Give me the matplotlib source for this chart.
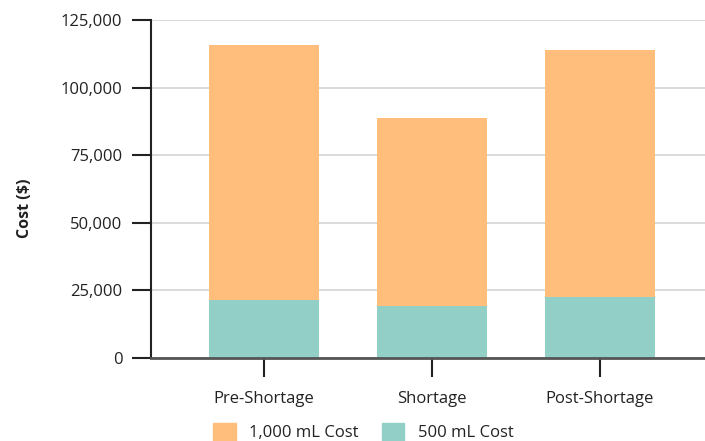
import matplotlib.pyplot as plt
from matplotlib.ticker import FuncFormatter
from matplotlib.patches import Patch

periods = ['Pre-Shortage', 'Shortage', 'Post-Shortage']
cost_500 = [21500, 19200, 22600]
cost_1000 = [94200, 69700, 91300]   # stacked on top of the 500 mL cost
yticks = [0, 25000, 50000, 75000, 100000, 125000]

orange = '#FFBE7B'
teal = '#91CFC7'

plt.rcParams['font.family'] = ['Open Sans', 'DejaVu Sans']

fig = plt.figure(figsize=(7.05, 4.41), dpi=100)
ax = fig.add_axes([151 / 705, 1 - 358 / 441, 1 - 151 / 705, 338 / 441])

x = range(len(periods))
ax.bar(x, cost_500, width=0.655, color=teal, zorder=3)
ax.bar(x, cost_1000, width=0.655, bottom=cost_500, color=orange, zorder=3)

ax.set_xlim(-0.673, 2.625)
ax.set_ylim(0, 125000)
ax.set_yticks(yticks)
ax.yaxis.set_major_formatter(FuncFormatter(lambda v, p: f'{int(v):,}'))
ax.set_xticks(list(x))
ax.set_xticklabels(periods)

ax.grid(axis='y', color='#d4d4d4', linewidth=1.2, zorder=0)
ax.tick_params(axis='y', length=13.7, width=1.5, color='#222222', labelsize=12,
               labelcolor='#222222', pad=7)
ax.tick_params(axis='x', length=13.7, width=1.5, color='#222222', labelsize=12,
               labelcolor='#222222', pad=10)

for s in ['top', 'right']:
    ax.spines[s].set_visible(False)
ax.spines['left'].set_color('#222222')
ax.spines['left'].set_linewidth(1.5)
ax.spines['bottom'].set_color('#555555')
ax.spines['bottom'].set_linewidth(2)
ax.spines['bottom'].set_zorder(4)

fig.text(25 / 705, 1 - 208 / 441, 'Cost ($)', rotation=90, ha='center', va='center',
         fontsize=11.5, fontweight='bold', color='#222222')

handles = [Patch(color=orange, label='1,000 mL Cost'),
           Patch(color=teal, label='500 mL Cost')]
fig.legend(handles=handles, loc='lower left', bbox_to_anchor=(198 / 705, -0.035),
           ncol=2, frameon=False, fontsize=12, handlelength=1.35, handleheight=1.35,
           handletextpad=0.8, columnspacing=1.4, labelcolor='#222222')

fig.savefig('out.png', dpi=100)
